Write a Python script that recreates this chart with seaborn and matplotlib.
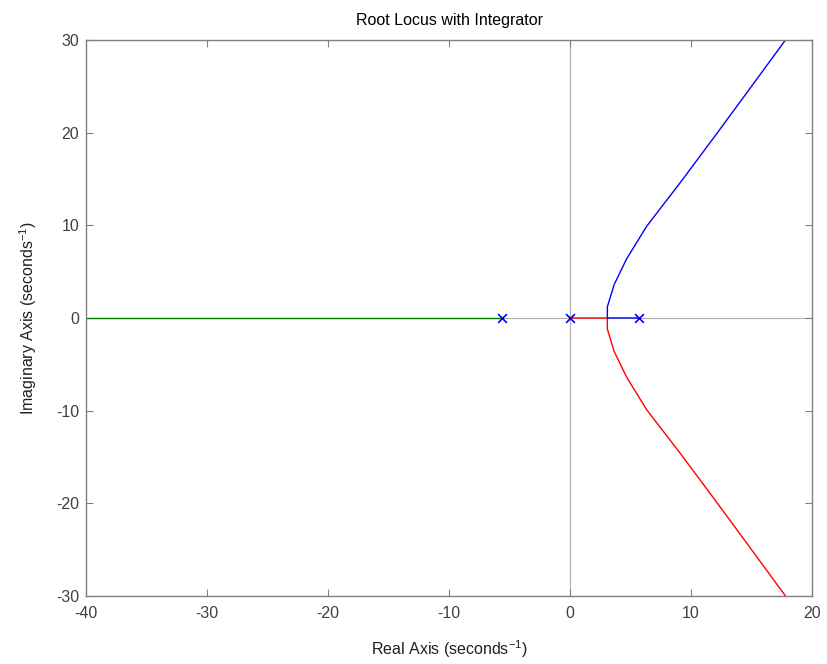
import numpy as np
import pandas as pd
import matplotlib
matplotlib.use("Agg")
import matplotlib.pyplot as plt
import seaborn as sns

# open-loop poles (integrator plus two real poles)
pole_re = [-5.66, 0.0, 5.66]
pole_im = [0.0, 0.0, 0.0]

# branch 1: from -5.66 along negative real axis to -40
green_re = [-5.66, -40.0]
green_im = [0.0, 0.0]

# branch 2: from 0 to breakaway, then down
red_re = [0.0, 3.08, 3.08, 3.64, 4.68, 6.33, 9.1, 11.84, 14.6, 17.8]
red_im = [0.0, 0.0, -1.2, -3.6, -6.4, -9.9, -14.6, -19.4, -24.3, -30.0]

# branch 3: from 5.66 to breakaway, then up
blue_re = [5.66, 3.08, 3.08, 3.64, 4.68, 6.33, 9.1, 11.84, 14.6, 17.8]
blue_im = [0.0, 0.0, 1.2, 3.6, 6.4, 9.9, 14.6, 19.4, 24.3, 30.0]

x_ticks = [-40, -30, -20, -10, 0, 10, 20]
y_ticks = [-30, -20, -10, 0, 10, 20, 30]

sns.set_theme(style="white")
plt.rcParams['font.family'] = ['Liberation Sans', 'DejaVu Sans']
plt.rcParams['mathtext.fontset'] = 'custom'
plt.rcParams['mathtext.rm'] = 'Liberation Sans'
plt.rcParams['mathtext.it'] = 'Liberation Sans:italic'
plt.rcParams['axes.unicode_minus'] = False

fig = plt.figure(figsize=(8.27, 6.64), dpi=100)
ax = fig.add_axes([0.104, 0.1024, 0.878, 0.8374])

# reference lines through origin
ax.axhline(0, color='#b0b0b0', lw=0.8, zorder=0)
ax.axvline(0, color='#b0b0b0', lw=0.8, zorder=0)

g = pd.DataFrame({'re': green_re, 'im': green_im})
r = pd.DataFrame({'re': red_re, 'im': red_im})
b = pd.DataFrame({'re': blue_re, 'im': blue_im})
for df, c in [(g, '#008000'), (r, 'red'), (b, 'blue')]:
    sns.lineplot(data=df, x='re', y='im', sort=False, estimator=None,
                 color=c, lw=1, ax=ax)

p = pd.DataFrame({'re': pole_re, 'im': pole_im})
sns.scatterplot(data=p, x='re', y='im', marker='x', color='blue', s=40,
                linewidth=1.2, ax=ax, zorder=5)

ax.set_xlim(-40, 20)
ax.set_ylim(-30, 30)
ax.set_xticks(x_ticks)
ax.set_yticks(y_ticks)
ax.tick_params(direction='in', length=5, width=0.8, colors='#808080',
               labelcolor='#404040', labelsize=11.5, top=True, right=True,
               bottom=True, left=True)
ax.tick_params(axis='x', pad=7)
ax.tick_params(axis='y', pad=5)
for s in ax.spines.values():
    s.set_color('#808080')
    s.set_linewidth(1)

ax.set_title('Root Locus with Integrator', fontsize=11.5, color='black', pad=11)
ax.set_xlabel('Real Axis (seconds$^{-1}$)', fontsize=11.5, color='#202020', labelpad=13)
ax.set_ylabel('Imaginary Axis (seconds$^{-1}$)', fontsize=11.5, color='#202020', labelpad=12)

fig.savefig('out.png', dpi=100, facecolor='white')
